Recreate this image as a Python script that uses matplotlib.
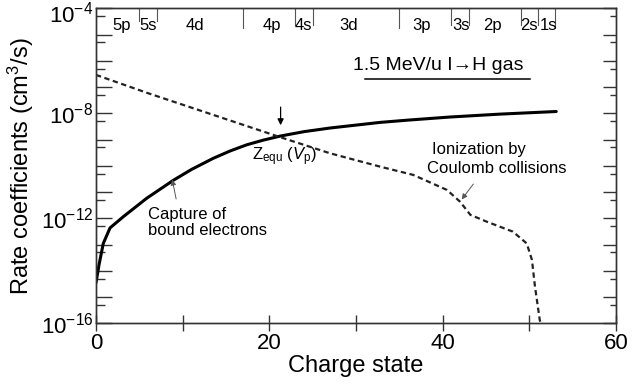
import numpy as np
import matplotlib
matplotlib.use("Agg")
import matplotlib.pyplot as plt
from matplotlib.ticker import LogLocator, FuncFormatter, MultipleLocator, NullFormatter
from matplotlib.transforms import blended_transform_factory

plt.rcParams['font.family'] = ['Liberation Sans', 'DejaVu Sans']
plt.rcParams['mathtext.fontset'] = 'custom'
plt.rcParams['mathtext.rm'] = 'Liberation Sans'
plt.rcParams['mathtext.it'] = 'Liberation Sans:italic'
plt.rcParams['mathtext.bf'] = 'Liberation Sans:bold'
plt.rcParams['axes.linewidth'] = 1.0

# capture of bound electrons (solid)
capture_q = [0, 0.35, 0.84, 1.62, 3.15, 5.85, 8.92, 11.0, 13.53, 15.5,
             17.39, 19.3, 21.23, 24.0, 27.0, 32.77, 36.0, 40.8, 46.6, 53.1]
capture_rate = [3.5e-15, 1.7e-14, 1.1e-13, 4.3e-13, 1.15e-12, 5.8e-12,
                2.8e-11, 7.2e-11, 1.93e-10, 3.7e-10, 6.3e-10, 9.5e-10,
                1.35e-9, 2.0e-9, 2.75e-9, 4.5e-9, 5.5e-9, 7.2e-9, 9.3e-9,
                1.17e-8]

# ionization by Coulomb collisions (dashed)
ioniz_q = [0, 6.03, 21.04, 27.0, 32.77, 36.6, 40.5, 42.0, 43.2, 45.1,
           48.1, 49.7, 50.3, 50.65, 51.2, 51.3]
ioniz_rate = [2.9e-7, 5.8e-8, 1.3e-9, 3.0e-10, 9.3e-11, 4.5e-11, 1.2e-11,
              4.3e-12, 1.35e-12, 7.4e-13, 3.1e-13, 1.1e-13, 2.6e-14,
              2.5e-15, 1.35e-16, 1e-16]

# shell closures of iodine and subshell names
shell_edges = [5, 7, 17, 23, 25, 35, 41, 43, 49, 51, 53]
shell_names = ['5p', '5s', '4d', '4p', '4s', '3d', '3p', '3s', '2p', '2s', '1s']

z_equ = 21.3

fig = plt.figure(figsize=(6.32, 3.92), dpi=100)
ax = fig.add_axes([0.1519, 0.1753, 0.8228, 0.8035])
spine_c = '#333333'

ax.plot(capture_q, capture_rate, color='k', lw=2.2, solid_capstyle='round',
        solid_joinstyle='round')
ax.plot(ioniz_q, ioniz_rate, color='#222222', lw=1.6, ls=(0, (2.4, 1.6)))

ax.set_xlim(0, 60)
ax.set_yscale('log')
ax.set_ylim(1e-16, 1e-4)

ax.xaxis.set_major_locator(MultipleLocator(10))
ax.xaxis.set_major_formatter(FuncFormatter(
    lambda v, p: '%d' % v if int(round(v)) % 20 == 0 else ''))
ax.yaxis.set_major_locator(LogLocator(base=10, numticks=30))
ax.yaxis.set_minor_locator(LogLocator(base=10, subs=(5,), numticks=30))
ax.yaxis.set_minor_formatter(NullFormatter())


def decade_label(v, pos):
    e = int(round(np.log10(v)))
    # the top one is drawn by hand further down
    if e % 4 != 0 or e == -4:
        return ''
    return r'$10^{%d}$' % e


ax.yaxis.set_major_formatter(FuncFormatter(decade_label))

ax.tick_params(axis='x', which='major', direction='inout', length=12,
               width=1.0, color=spine_c, labelsize=16, pad=1, top=False)
ax.tick_params(axis='y', which='major', direction='in', length=11.5,
               width=1.0, color=spine_c, labelsize=16, pad=2, right=False)
ax.tick_params(axis='y', which='minor', direction='in', length=6.5,
               width=1.0, color=spine_c, right=False)
for s in ax.spines.values():
    s.set_color(spine_c)

fig.text(93.2 / 632, 1 - 2 / 392, r'$10^{-4}$', fontsize=16,
         ha='right', va='top')

# right-hand ticks are a little shorter
ax2 = ax.twinx()
ax2.set_yscale('log')
ax2.set_ylim(ax.get_ylim())
ax2.yaxis.set_major_locator(LogLocator(base=10, numticks=30))
ax2.yaxis.set_minor_locator(LogLocator(base=10, subs=(5,), numticks=30))
ax2.yaxis.set_major_formatter(NullFormatter())
ax2.yaxis.set_minor_formatter(NullFormatter())
ax2.tick_params(axis='y', which='major', direction='in', length=9.4,
                width=1.0, color=spine_c)
ax2.tick_params(axis='y', which='minor', direction='in', length=4.3,
                width=1.0, color=spine_c)
for s in ax2.spines.values():
    s.set_color(spine_c)

ax.set_xlabel('Charge state', fontsize=17, labelpad=1)
ax.set_ylabel(r'Rate coefficients (cm$^3$/s)', fontsize=17, labelpad=3)

# subshell boundaries hanging from the top axis
trans = blended_transform_factory(ax.transData, ax.transAxes)
edge_len = [0.040, 0.040, 0.063, 0.053, 0.053, 0.063, 0.053, 0.053,
            0.053, 0.053, 0.063]
for q, ln in zip(shell_edges, edge_len):
    ax.plot([q, q], [1.0, 1.0 - ln], transform=trans, color='#555555',
            lw=0.8, clip_on=False)
label_q = [2.97, 6.0, 11.4, 20.3, 23.9, 29.2, 37.6, 42.1, 45.7, 50.0, 52.2]
for q, name in zip(label_q, shell_names):
    ax.text(q, 0.947, name, transform=trans, fontsize=12,
            ha='center', va='center')

# projectile / target
ax.text(29.65, 6.9e-7, u'1.5 MeV/u I\u2192H gas', fontsize=14,
        ha='left', va='center')
ax.plot([31.0, 50.1], [2.1e-7, 2.1e-7], color='k', lw=1.1)

# equilibrium charge state
ax.annotate('', xy=(z_equ, 2.75e-9), xytext=(z_equ, 2.2e-8),
            arrowprops=dict(arrowstyle='-|>', color='k', lw=0.9,
                            mutation_scale=9))
ax.text(21.7, 2.2e-10, r'Z$_{\rm equ}$ ($V_{\rm p}$)', fontsize=12,
        ha='center', va='center')

ax.annotate('', xy=(8.73, 3.8e-11), xytext=(9.31, 4.3e-12),
            arrowprops=dict(arrowstyle='-|>', color='#555555', lw=0.7,
                            mutation_scale=8))
ax.text(6.03, 6.8e-13, 'Capture of\nbound electrons', fontsize=12,
        ha='left', va='center', linespacing=1.05)

ax.annotate('', xy=(42.0, 4.3e-12), xytext=(43.73, 2.45e-11),
            arrowprops=dict(arrowstyle='-|>', color='#555555', lw=0.7,
                            mutation_scale=8))
ax.text(38.73, 4.0e-10, 'Ionization by', fontsize=12, ha='left', va='center')
ax.text(38.16, 7.9e-11, 'Coulomb collisions', fontsize=12,
        ha='left', va='center')

fig.savefig('out.png', dpi=100)
